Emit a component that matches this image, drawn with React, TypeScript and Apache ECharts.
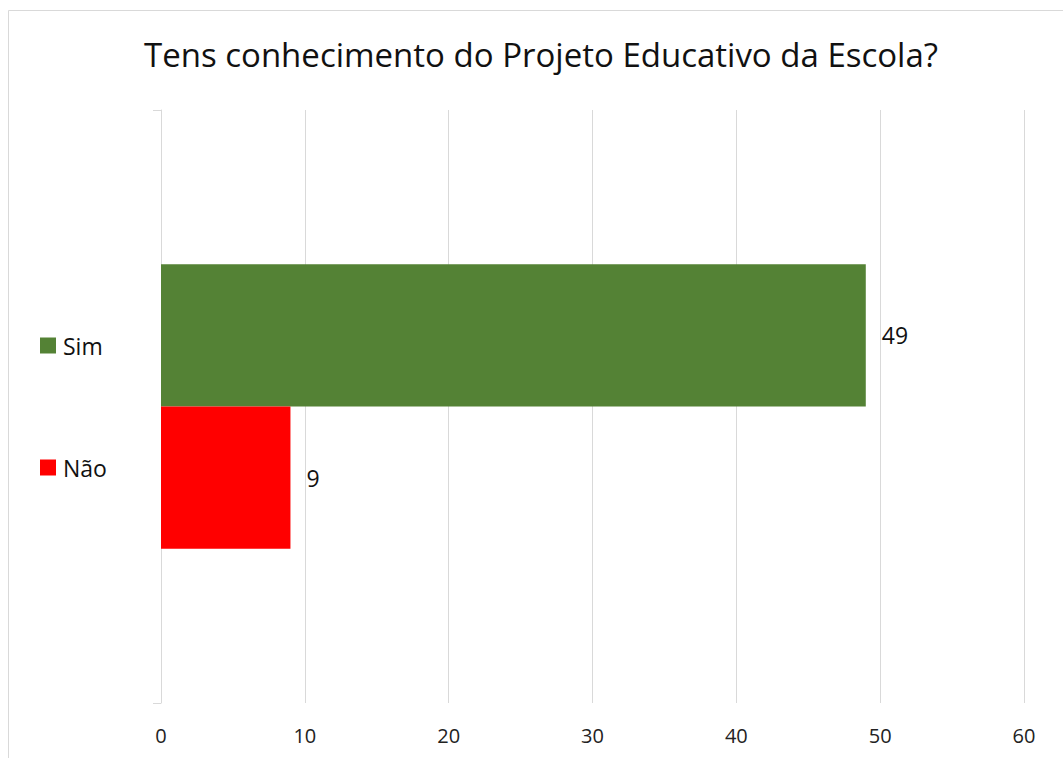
import React, { useEffect, useRef } from "react";
import * as echarts from "echarts";

const categories = [""];
const seriesNames = ["Sim", "Não"];
const simValues = [49];
const naoValues = [9];
const seriesColors = ["#548235", "#FF0000"];
const xTicks = { min: 0, max: 60, interval: 10 };
const titleText = "Tens conhecimento do Projeto Educativo da Escola?";

export default function App() {
  const ref = useRef<HTMLDivElement>(null);
  useEffect(() => {
    if (!ref.current) return;
    const chart = echarts.init(ref.current, undefined, { renderer: "svg" });
    const font = "'Open Sans', 'Noto Sans', sans-serif";
    const labelStyle = { show: true, position: "right", distance: 16, fontSize: 23, color: "#111111", fontFamily: font };
    chart.setOption({
      animation: false,
      backgroundColor: "#ffffff",
      textStyle: { fontFamily: font },
      title: {
        text: titleText,
        left: 536,
        textAlign: "center",
        top: 33,
        textStyle: { fontSize: 33, fontWeight: "normal", color: "#111111", fontFamily: font },
      },
      graphic: [
        {
          type: "rect",
          shape: { x: 8.5, y: 10.5, width: 1080, height: 800 },
          style: { fill: "none", stroke: "#d9d9d9", lineWidth: 1 },
          silent: true,
        },
      ],
      legend: {
        orient: "vertical",
        left: 40,
        top: 334,
        padding: 0,
        itemWidth: 16,
        itemHeight: 16,
        itemGap: 99,
        data: seriesNames,
        icon: "rect",
        textStyle: { fontSize: 23, color: "#111111", fontFamily: font, padding: [0, 0, 0, 2] },
      },
      grid: { left: 161, right: 39, top: 110, bottom: 55 },
      xAxis: {
        type: "value",
        min: xTicks.min,
        max: xTicks.max,
        interval: xTicks.interval,
        axisLine: { show: false },
        axisTick: { show: false },
        axisLabel: { fontSize: 20, color: "#222222", margin: 22, fontFamily: font },
        splitLine: { show: true, lineStyle: { color: "#d9d9d9", width: 1 } },
      },
      yAxis: {
        type: "category",
        data: categories,
        axisLine: { show: true, lineStyle: { color: "#d9d9d9", width: 1 } },
        axisTick: { show: true, length: 8, lineStyle: { color: "#d9d9d9" } },
        axisLabel: { show: false },
      },
      series: [
        {
          name: seriesNames[0],
          type: "bar",
          data: simValues,
          itemStyle: { color: seriesColors[0] },
          barGap: "0%",
          barCategoryGap: "52%",
          label: labelStyle,
        },
        {
          name: seriesNames[1],
          type: "bar",
          data: naoValues,
          itemStyle: { color: seriesColors[1] },
          barGap: "0%",
          barCategoryGap: "52%",
          label: labelStyle,
        },
      ],
    });
    return () => chart.dispose();
  }, []);
  return (
    <div
      ref={ref}
      style={{ position: "absolute", left: 0, top: 0, width: 1063, height: 758 }}
    />
  );
}
